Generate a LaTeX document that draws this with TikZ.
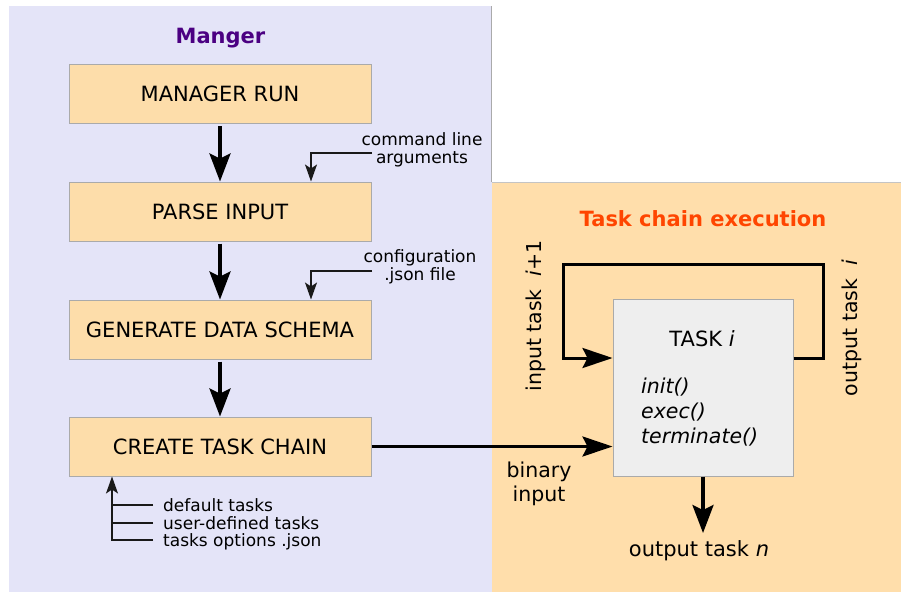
\documentclass[tikz,border=0pt]{standalone}
\usepackage{fontspec}
\setmainfont{DejaVu Sans}
\usetikzlibrary{arrows.meta,calc}
\definecolor{lav}{HTML}{E4E4F8}
\definecolor{orng}{HTML}{FFDEAB}
\definecolor{boxfill}{HTML}{FDDDAA}
\definecolor{taskfill}{HTML}{EEEEEE}
\definecolor{edge}{HTML}{AAAAAA}
\definecolor{mgrcol}{HTML}{4B0082}
\definecolor{tcecol}{HTML}{FF4500}
\tikzset{
  stepbox/.style={draw=edge, line width=1pt, fill=boxfill, minimum width=302pt, minimum height=59pt, inner sep=0pt, font=\fontsize{21}{25}\selectfont},
  bigarrow/.style={draw=black, line width=3.5pt, -{Stealth[length=28pt,width=21pt,inset=5pt]}},
  sidearrow/.style={draw=black, line width=3pt, -{Stealth[length=30pt,width=20pt,inset=5pt]}},
  smallarrow/.style={draw=black!90, line width=1.6pt, -{Stealth[length=17pt,width=12pt,inset=4pt]}},
  thinline/.style={draw=black!90, line width=1.6pt},
  smalltxt/.style={font=\fontsize{17}{19}\selectfont, inner sep=0pt},
  bigtxt/.style={font=\fontsize{20.5}{24}\selectfont, inner sep=0pt},
  titletxt/.style={font=\fontsize{21}{25}\selectfont\bfseries, inner sep=0pt},
}
\begin{document}
\begin{tikzpicture}[x=1pt,y=-1pt]
\useasboundingbox (0,0) rectangle (901,592);
% panels
\fill[lav] (9,6) rectangle (491.5,592);
\draw[edge, line width=1pt] (491.5,6) -- (491.5,182);
\fill[orng] (491.5,182) rectangle (901,592);
\draw[edge!70, line width=1pt] (491.5,182) -- (901,182);
% titles
\node[titletxt, text=mgrcol] (mgr) at (220.5,38) {Manger};
\node[titletxt, text=tcecol] (tce) at (703,219) {Task chain execution};
% manager boxes
\node[stepbox] (run) at (220,94) {MANAGER RUN};
\node[stepbox] (parse) at (220,211.5) {PARSE INPUT};
\node[stepbox] (gen) at (220,329.5) {GENERATE DATA SCHEMA};
\node[stepbox] (create) at (220,446.5) {CREATE TASK CHAIN};
% main arrows
\draw[bigarrow] ([yshift=-2pt]run.south) -- (parse.north);
\draw[bigarrow] ([yshift=-2pt]parse.south) -- (gen.north);
\draw[bigarrow] ([yshift=-2pt]gen.south) -- (create.north);
% side inputs
\node[smalltxt, align=center] (cla) at (422,150) {command line\\[-1pt]arguments};
\coordinate (cl) at (372,153);
\draw[smallarrow] (cl) -| ([xshift=91pt]parse.north);
\node[smalltxt, align=center] (cfg) at (420,267) {configuration\\[-1pt].json file};
\coordinate (cf) at (372,271);
\draw[smallarrow] (cf) -| ([xshift=91pt]gen.north);
% bottom inputs
\node[smalltxt, anchor=west] (dt) at (163,505) {default tasks};
\node[smalltxt, anchor=west] (ut) at (163,523) {user-defined tasks};
\node[smalltxt, anchor=west] (to) at (163,542) {tasks options .json};
\coordinate (d1) at (153,505);
\coordinate (d2) at (153,523);
\coordinate (d3) at (153,540);
\draw[thinline] (d1) -- ++(-41,0);
\draw[thinline] (d2) -- ++(-41,0);
\draw[smallarrow] (d3) -| ([xshift=-108pt]create.south);
% task box
\node[draw=edge, line width=1pt, fill=taskfill, minimum width=180pt, minimum height=177pt, inner sep=0pt] (task) at (703,387.5) {};
\node[font=\fontsize{21}{25}\selectfont, inner sep=0pt] (tasktitle) at (702,339) {TASK \textit{i}};
\node[font=\fontsize{20.5}{25}\selectfont\itshape, anchor=north west, align=left, inner sep=0pt] (methods) at (641,378) {init()\\exec()\\terminate()};
% binary input
\draw[sidearrow] (create.east) -- (task.west |- create.east);
\node[bigtxt, align=center] (bin) at (539,484) {binary\\input};
% loop
\coordinate (lr) at ([yshift=29.5pt]task.east);
\coordinate (ll) at ([yshift=29.5pt]task.west);
\draw[sidearrow] (lr) -- ++(30,0) |- (563,264) |- (ll);
% rotated labels
\node[bigtxt, rotate=90] (inl) at (536,316) {input task\ \ \textit{i}+1};
\node[bigtxt, rotate=90] (outl) at (852,328) {output task\ \ \textit{i}};
% output
\node[font=\fontsize{21}{25}\selectfont, inner sep=0pt] (outn) at (699,551) {output task \textit{n}};
\coordinate (outtip) at (703,533);
\draw[bigarrow] (task.south) -- (outtip);
\end{tikzpicture}
\end{document}
